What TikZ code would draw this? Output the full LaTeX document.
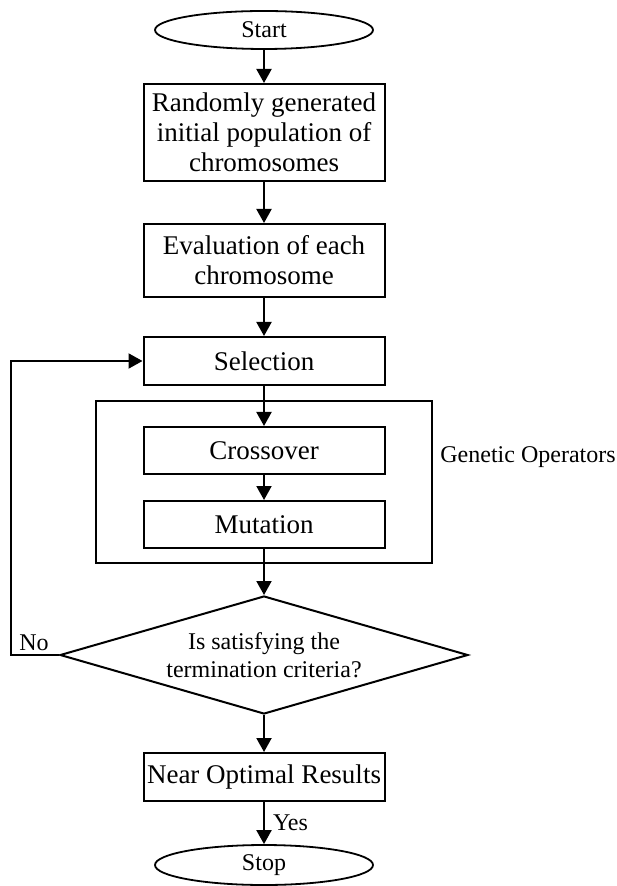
\documentclass[tikz,border=0pt]{standalone}
\usepackage{fontspec}
\setmainfont{Liberation Serif}
\usepackage{tikz}
\usetikzlibrary{positioning, shapes.geometric, arrows.meta}
\tikzset{
    stepbox/.style={draw, line width=1pt, minimum width=120.5pt, inner xsep=1pt, inner ysep=1.5pt, align=center, font=\fontsize{13.5}{15}\selectfont},
    terminal/.style={ellipse, draw, line width=0.9pt, minimum width=109pt, minimum height=19pt, inner sep=0pt, font=\fontsize{12}{14}\selectfont},
    decision/.style={diamond, draw, line width=1pt, aspect=3.46, inner sep=0pt, minimum width=204pt, minimum height=59pt, align=center, font=\fontsize{12}{14}\selectfont},
    group_box/.style={draw, line width=1pt, minimum width=168pt, minimum height=81pt},
    flow/.style={line width=1pt, -{Triangle[length=7pt, width=7.5pt]}},
    note/.style={font=\fontsize{12}{14}\selectfont, inner sep=0pt}
}

\begin{document}
\begin{tikzpicture}[x=0.5pt, y=-0.5pt]
      \useasboundingbox (0,0) rectangle (616,886);

      % --- Main column ---
      \node (start) [terminal] at (264,30) {Start};
      \node (init) [stepbox, minimum height=48.5pt] at (264,132.5) {Randomly generated\\initial population of\\chromosomes};
      \node (eval) [stepbox, minimum height=36.5pt] at (264,260.5) {Evaluation of each\\chromosome};
      \node (select) [stepbox, minimum height=24pt] at (264,361) {Selection};

      % --- Genetic operators ---
      \node (ops) [group_box] at (264,482) {};
      \node (cross) [stepbox, minimum height=23.5pt] at (264,450.5) {Crossover};
      \node (mutate) [stepbox, minimum height=23.5pt] at (264,524.5) {Mutation};
      \node (ops_label) [note, anchor=west] at (440,457) {Genetic Operators};

      % --- Check and end ---
      \node (check) [decision] at (264,655) {Is satisfying the\\termination criteria?};
      \node (result) [stepbox, minimum height=24pt] at (264,777) {Near Optimal Results};
      \node (stop) [terminal, minimum height=20pt] at (264,865) {Stop};

      % --- Arrows ---
      \draw[flow] (start) -- (init);
      \draw[flow] (init) -- (eval);
      \draw[flow] (eval) -- (select);
      \draw[flow] (select) -- (cross);
      \draw[flow] (cross) -- (mutate);
      \draw[flow] (mutate) -- (check);
      \draw[flow] (check) -- (result);
      \draw[flow] (result) -- (stop) node[note, midway, right=4pt] {Yes};
      \draw[flow] (check.west) -- ++(-48,0) |- (select.west);
      \node (no_label) [note, above left=2pt and 5pt of check.west] {No};
\end{tikzpicture}
\end{document}
